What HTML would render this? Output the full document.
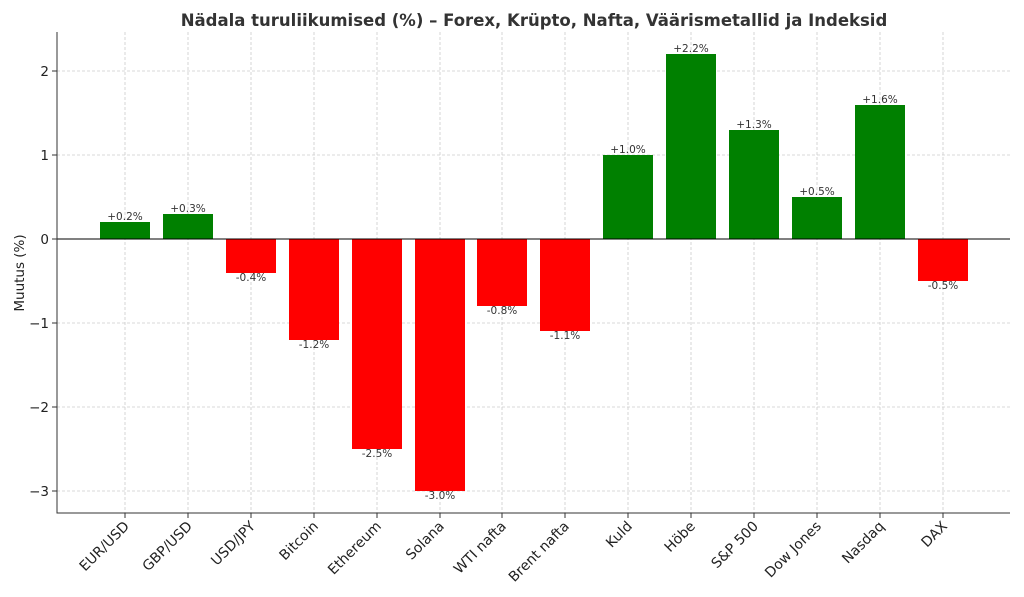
<!DOCTYPE html>
<html><head><meta charset="utf-8"><style>body{margin:0;background:#fff}svg{display:block}</style></head><body>
<svg width="1024" height="597" xmlns="http://www.w3.org/2000/svg" font-family="DejaVu Sans, Liberation Sans, sans-serif">
<rect width="1024" height="597" fill="#fff"/>
<text x="534" y="26" text-anchor="middle" font-size="16.5" font-weight="bold" fill="#333">Nädala turuliikumised (%) – Forex, Krüpto, Nafta, Väärismetallid ja Indeksid</text>
<g stroke="#ccc" stroke-dasharray="3,2" stroke-width="0.8">
<line x1="57" x2="1010" y1="71" y2="71"/><line x1="57" x2="1010" y1="155" y2="155"/><line x1="57" x2="1010" y1="323" y2="323"/><line x1="57" x2="1010" y1="407" y2="407"/><line x1="57" x2="1010" y1="491" y2="491"/>
<line x1="125" x2="125" y1="32" y2="513"/><line x1="188" x2="188" y1="32" y2="513"/><line x1="251" x2="251" y1="32" y2="513"/><line x1="314" x2="314" y1="32" y2="513"/><line x1="377" x2="377" y1="32" y2="513"/><line x1="440" x2="440" y1="32" y2="513"/><line x1="502" x2="502" y1="32" y2="513"/><line x1="565" x2="565" y1="32" y2="513"/><line x1="628" x2="628" y1="32" y2="513"/><line x1="691" x2="691" y1="32" y2="513"/><line x1="754" x2="754" y1="32" y2="513"/><line x1="817" x2="817" y1="32" y2="513"/><line x1="880" x2="880" y1="32" y2="513"/><line x1="943" x2="943" y1="32" y2="513"/>
</g>
<g>
<rect x="100" y="222" width="50" height="17" fill="green"/>
<rect x="163" y="214" width="50" height="25" fill="green"/>
<rect x="226" y="239" width="50" height="34" fill="red"/>
<rect x="289" y="239" width="50" height="101" fill="red"/>
<rect x="352" y="239" width="50" height="210" fill="red"/>
<rect x="415" y="239" width="50" height="252" fill="red"/>
<rect x="477" y="239" width="50" height="67" fill="red"/>
<rect x="540" y="239" width="50" height="92" fill="red"/>
<rect x="603" y="155" width="50" height="84" fill="green"/>
<rect x="666" y="54" width="50" height="185" fill="green"/>
<rect x="729" y="130" width="50" height="109" fill="green"/>
<rect x="792" y="197" width="50" height="42" fill="green"/>
<rect x="855" y="105" width="50" height="134" fill="green"/>
<rect x="918" y="239" width="50" height="42" fill="red"/>
</g>
<line x1="57" x2="1010" y1="239" y2="239" stroke="#000" stroke-width="0.9"/>
<g font-size="10.5" fill="#333" text-anchor="middle">
<text x="125" y="220">+0.2%</text><text x="188" y="212">+0.3%</text><text x="251" y="281">-0.4%</text><text x="314" y="348">-1.2%</text><text x="377" y="457">-2.5%</text><text x="440" y="499">-3.0%</text><text x="502" y="314">-0.8%</text><text x="565" y="339">-1.1%</text><text x="628" y="153">+1.0%</text><text x="691" y="52">+2.2%</text><text x="754" y="128">+1.3%</text><text x="817" y="195">+0.5%</text><text x="880" y="103">+1.6%</text><text x="943" y="289">-0.5%</text>
</g>
<g stroke="#333" stroke-width="1" fill="none"><path d="M57 32V513H1010"/></g>
<g stroke="#333"><line x1="52" x2="57" y1="71" y2="71"/><line x1="52" x2="57" y1="155" y2="155"/><line x1="52" x2="57" y1="239" y2="239"/><line x1="52" x2="57" y1="323" y2="323"/><line x1="52" x2="57" y1="407" y2="407"/><line x1="52" x2="57" y1="491" y2="491"/></g>
<g font-size="13.5" fill="#222" text-anchor="end">
<text x="49" y="76">2</text><text x="49" y="160">1</text><text x="49" y="244">0</text><text x="49" y="328">−1</text><text x="49" y="412">−2</text><text x="49" y="496">−3</text>
</g>
<text transform="translate(24,273) rotate(-90)" text-anchor="middle" font-size="13.5" fill="#222">Muutus (%)</text>
<g stroke="#333"><line x1="125" x2="125" y1="513" y2="518"/><line x1="188" x2="188" y1="513" y2="518"/><line x1="251" x2="251" y1="513" y2="518"/><line x1="314" x2="314" y1="513" y2="518"/><line x1="377" x2="377" y1="513" y2="518"/><line x1="440" x2="440" y1="513" y2="518"/><line x1="502" x2="502" y1="513" y2="518"/><line x1="565" x2="565" y1="513" y2="518"/><line x1="628" x2="628" y1="513" y2="518"/><line x1="691" x2="691" y1="513" y2="518"/><line x1="754" x2="754" y1="513" y2="518"/><line x1="817" x2="817" y1="513" y2="518"/><line x1="880" x2="880" y1="513" y2="518"/><line x1="943" x2="943" y1="513" y2="518"/></g>
<g font-size="14" fill="#222" text-anchor="end">
<text transform="translate(130,527) rotate(-45)">EUR/USD</text>
<text transform="translate(193,527) rotate(-45)">GBP/USD</text>
<text transform="translate(256,527) rotate(-45)">USD/JPY</text>
<text transform="translate(319,527) rotate(-45)">Bitcoin</text>
<text transform="translate(382,527) rotate(-45)">Ethereum</text>
<text transform="translate(445,527) rotate(-45)">Solana</text>
<text transform="translate(507,527) rotate(-45)">WTI nafta</text>
<text transform="translate(570,527) rotate(-45)">Brent nafta</text>
<text transform="translate(633,527) rotate(-45)">Kuld</text>
<text transform="translate(696,527) rotate(-45)">Höbe</text>
<text transform="translate(759,527) rotate(-45)">S&amp;P 500</text>
<text transform="translate(822,527) rotate(-45)">Dow Jones</text>
<text transform="translate(885,527) rotate(-45)">Nasdaq</text>
<text transform="translate(948,527) rotate(-45)">DAX</text>
</g>
</svg>
</body></html>
